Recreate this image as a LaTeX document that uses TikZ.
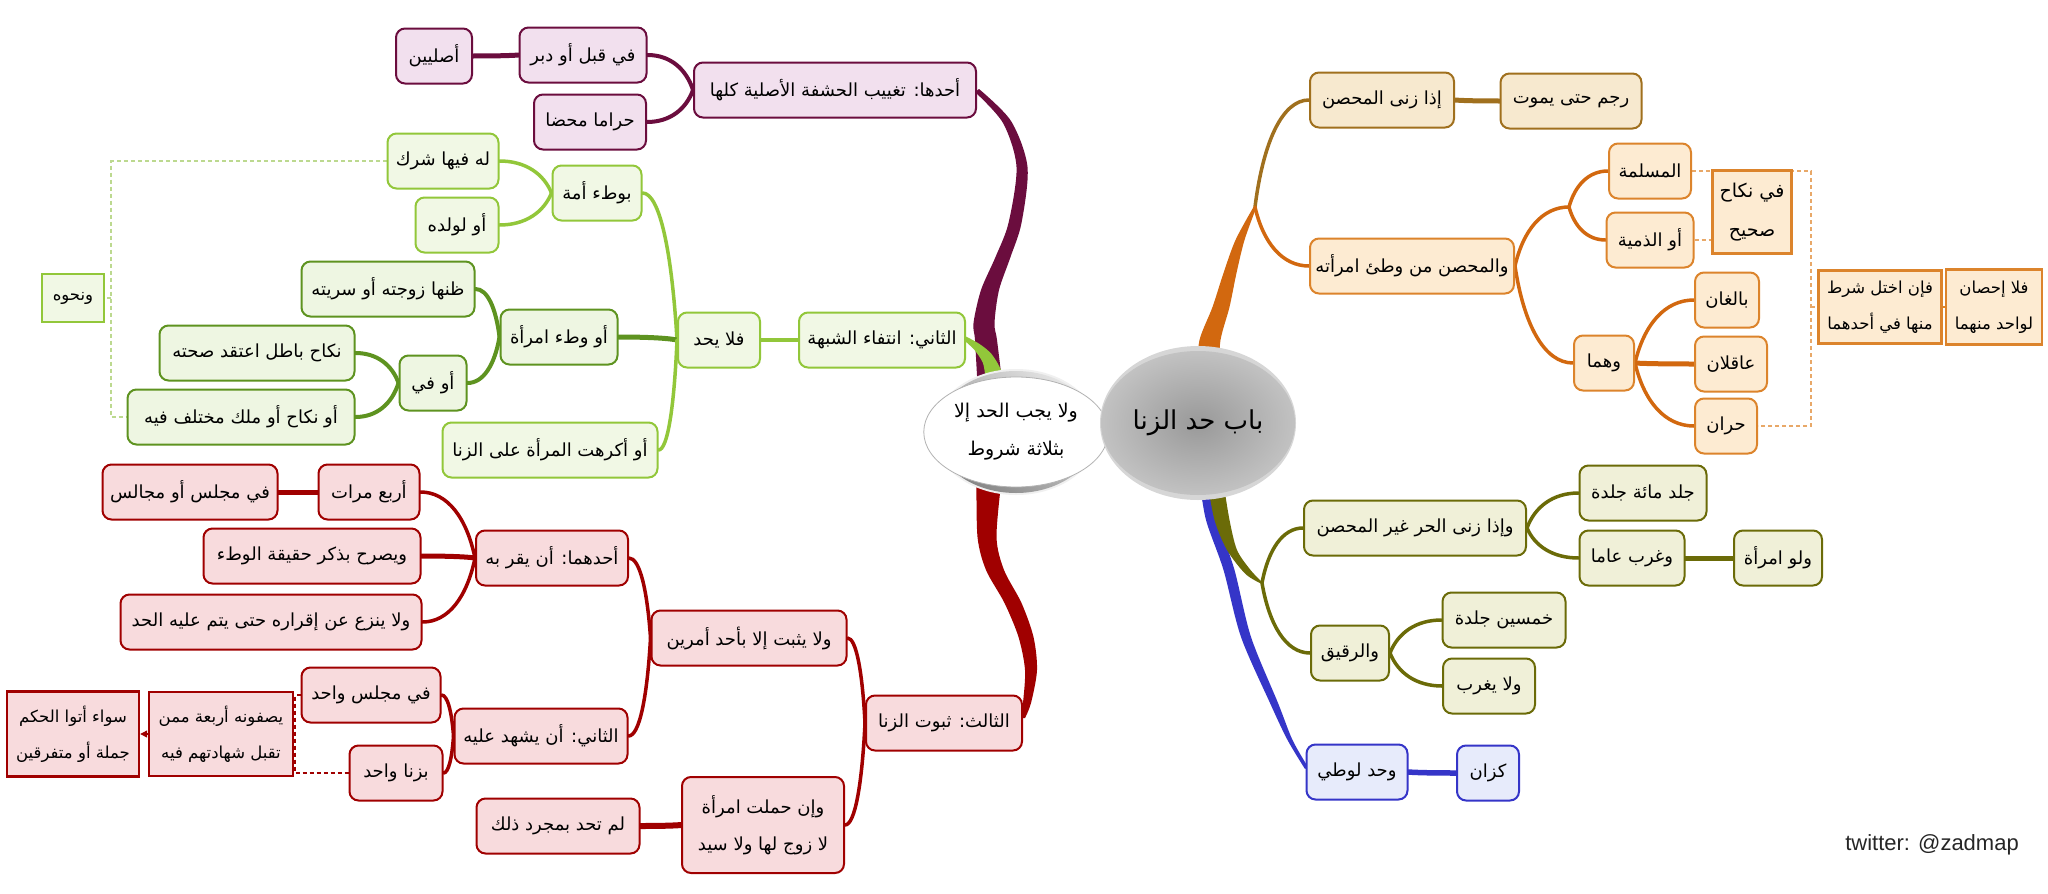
\documentclass[tikz,border=0pt]{standalone}
\usepackage{fontspec}
\usetikzlibrary{calc,arrows.meta,shapes.geometric}
\TeXXeTstate=1
\newfontfamily\arabicfont[Script=Arabic]{DejaVu Sans}
\newfontfamily\latinsans{Liberation Sans}
\newcommand{\artxt}[1]{\beginR #1\endR}
\definecolor{cMar}{HTML}{6B0D3E}\definecolor{cMarF}{HTML}{F2E0EE}
\definecolor{cGl}{HTML}{92C73A}\definecolor{cGlF}{HTML}{F1F8E5}
\definecolor{cGd}{HTML}{5E9320}\definecolor{cGdF}{HTML}{EEF6E2}
\definecolor{cRd}{HTML}{A00000}\definecolor{cRdF}{HTML}{F8DBDD}
\definecolor{cOr}{HTML}{D2680F}\definecolor{cOrB}{HTML}{DC842C}\definecolor{cOrF}{HTML}{FDEBD2}
\definecolor{cBr}{HTML}{A0701E}\definecolor{cBrF}{HTML}{F7E9CF}
\definecolor{cOl}{HTML}{6B6B08}\definecolor{cOlF}{HTML}{F0F0D8}
\definecolor{cBl}{HTML}{3535C8}\definecolor{cBlF}{HTML}{E7EBFB}
\definecolor{cOdash}{HTML}{E8A868}\definecolor{cGdash}{HTML}{BCD98F}
\pgfdeclarelayer{back}\pgfdeclarelayer{bg}\pgfsetlayers{back,bg,main}
\begin{document}
\begin{tikzpicture}[x=1pt,y=-1pt,
  bx/.style={draw, rounded corners=9pt, line width=2pt, minimum height=55pt, inner sep=1pt, align=center, text=black, font=\arabicfont\fontsize{18}{37}\selectfont},
  sq/.style={sharp corners, line width=2.4pt, font=\arabicfont\fontsize{16.5}{36}\selectfont},
  mar/.style={bx, draw=cMar, fill=cMarF},
  gl/.style={bx, draw=cGl, fill=cGlF},
  gd/.style={bx, draw=cGd, fill=cGdF},
  rd/.style={bx, draw=cRd, fill=cRdF},
  br/.style={bx, draw=cBr, fill=cBrF},
  orb/.style={bx, draw=cOrB, fill=cOrF},
  ol/.style={bx, draw=cOl, fill=cOlF},
  bl/.style={bx, draw=cBl, fill=cBlF},
  cn/.style={line cap=round, line width=3.5pt, to path={let \p1=(\tikztostart), \p2=(\tikztotarget) in .. controls ({\x1+0.15*(\x2-\x1)},{\y1+0.6*(\y2-\y1)}) and ({\x1+0.5*(\x2-\x1)},\y2) .. (\tikztotarget) \tikztonodes}},
  dsh/.style={dashed, line width=1.1pt, dash pattern=on 4pt off 3pt},
]
\begin{pgfonlayer}{back}
\fill[white] (0,0) rectangle (2048,894);
\end{pgfonlayer}
\useasboundingbox (0,0) rectangle (2048,894);

% ---------- maroon ----------
\node[mar, minimum width=76pt] (asl) at (434,56) {\artxt{أصليين}};
\node[mar, minimum width=127pt] (qubul) at (583,55) {\artxt{في قبل أو دبر}};
\node[mar, minimum width=112pt] (haram) at (590,122) {\artxt{حراما محضا}};
\node[mar, minimum width=282pt] (ahad) at (835,90) {\artxt{أحدها: تغييب الحشفة الأصلية كلها}};
% ---------- green ----------
\node[gl, minimum width=111pt] (sharik) at (443,161) {\artxt{له فيها شرك}};
\node[gl, minimum width=83pt] (walad) at (457,225) {\artxt{أو لولده}};
\node[gl, minimum width=89pt] (amah) at (597,193) {\artxt{بوطء أمة}};
\node[gl, sq, minimum width=62pt, minimum height=48pt] (nahwuh) at (73,298) {\artxt{ونحوه}};
\node[gd, minimum width=173pt] (zann) at (388,289) {\artxt{ظنها زوجته أو سريته}};
\node[gd, minimum width=117pt] (watimr) at (559,337) {\artxt{أو وطء امرأة}};
\node[gd, minimum width=195pt] (batil) at (257,353) {\artxt{نكاح باطل اعتقد صحته}};
\node[gd, minimum width=67pt] (awfi) at (433,383) {\artxt{أو في}};
\node[gd, minimum width=227pt] (mukh) at (241,417) {\artxt{أو نكاح أو ملك مختلف فيه}};
\node[gl, minimum width=215pt] (ikrah) at (550,450) {\artxt{أو أكرهت المرأة على الزنا}};
\node[gl, minimum width=82pt] (fala) at (719,340) {\artxt{فلا يحد}};
\node[gl, minimum width=166pt] (thani) at (882,340) {\artxt{الثاني: انتفاء الشبهة}};
% ---------- red ----------
\node[rd, minimum width=175pt] (majalis) at (190,492) {\artxt{في مجلس أو مجالس}};
\node[rd, minimum width=101pt] (arba) at (369,492) {\artxt{أربع مرات}};
\node[rd, minimum width=217pt] (yusarrih) at (312,556) {\artxt{ويصرح بذكر حقيقة الوطء}};
\node[rd, minimum width=152pt] (yuqirr) at (552,558) {\artxt{أحدهما: أن يقر به}};
\node[rd, minimum width=301pt] (yanzi) at (271,622) {\artxt{ولا ينزع عن إقراره حتى يتم عليه الحد}};
\node[rd, minimum width=139pt] (wahid) at (371,695) {\artxt{في مجلس واحد}};
\node[rd, minimum width=173pt] (yashhad) at (541,736) {\artxt{الثاني: أن يشهد عليه}};
\node[rd, minimum width=93pt] (zinaw) at (396,773) {\artxt{بزنا واحد}};
\node[rd, sq, minimum width=144pt, minimum height=84pt] (yasif) at (221,734) {\artxt{يصفونه أربعة ممن}\\\artxt{تقبل شهادتهم فيه}};
\node[rd, sq, minimum width=132pt, minimum height=85pt] (sawa) at (73,734) {\artxt{سواء أتوا الحكم}\\\artxt{جملة أو متفرقين}};
\node[rd, minimum width=195pt] (yathbut) at (749,638) {\artxt{ولا يثبت إلا بأحد أمرين}};
\node[rd, minimum width=156pt] (thalith) at (944,723) {\artxt{الثالث: ثبوت الزنا}};
\node[rd, minimum width=162pt, minimum height=96pt] (hamalat) at (763,825) {\artxt{وإن حملت امرأة}\\\artxt{لا زوج لها ولا سيد}};
\node[rd, minimum width=163pt] (lam) at (558,826) {\artxt{لم تحد بمجرد ذلك}};
% ---------- orange ----------
\node[br, minimum width=144pt] (idha) at (1382,100) {\artxt{إذا زنى المحصن}};
\node[br, minimum width=141pt] (rajm) at (1571,101) {\artxt{رجم حتى يموت}};
\node[orb, minimum width=204pt] (muhsan) at (1412,266) {\artxt{والمحصن من وطئ امرأته}};
\node[orb, minimum width=82pt] (muslima) at (1650,171) {\artxt{المسلمة}};
\node[orb, minimum width=87pt] (dhimmiya) at (1650,240) {\artxt{أو الذمية}};
\node[orb, sq, minimum width=79pt, minimum height=83pt, font=\arabicfont\fontsize{19}{39}\selectfont] (nikah) at (1752,212) {\artxt{في نكاح}\\\artxt{صحيح}};
\node[orb, minimum width=60pt] (huma) at (1604,363) {\artxt{وهما}};
\node[orb, minimum width=64pt] (baligh) at (1727,300) {\artxt{بالغان}};
\node[orb, minimum width=72pt] (aqil) at (1731,364) {\artxt{عاقلان}};
\node[orb, minimum width=62pt] (hurr) at (1726,426) {\artxt{حران}};
\node[orb, sq, minimum width=123pt, minimum height=73pt] (ikhtal) at (1880,307) {\artxt{فإن اختل شرط}\\\artxt{منها في أحدهما}};
\node[orb, sq, minimum width=96pt, minimum height=75pt] (ihsan) at (1994,307) {\artxt{فلا إحصان}\\\artxt{لواحد منهما}};
% ---------- olive ----------
\node[ol, minimum width=222pt] (ghayr) at (1415,528) {\artxt{وإذا زنى الحر غير المحصن}};
\node[ol, minimum width=127pt] (jald) at (1643,493) {\artxt{جلد مائة جلدة}};
\node[ol, minimum width=105pt] (gharrib) at (1632,558) {\artxt{وغرب عاما}};
\node[ol, minimum width=88pt] (walaw) at (1778,558) {\artxt{ولو امرأة}};
\node[ol, minimum width=78pt] (raqiq) at (1350,653) {\artxt{والرقيق}};
\node[ol, minimum width=123pt] (khamsin) at (1504,620) {\artxt{خمسين جلدة}};
\node[ol, minimum width=92pt] (yugharrab) at (1489,686) {\artxt{ولا يغرب}};
% ---------- blue ----------
\node[bl, minimum width=101pt] (luti) at (1357,772) {\artxt{وحد لوطي}};
\node[bl, minimum width=62pt] (kazan) at (1488,773) {\artxt{كزان}};
% ---------- centre ----------
\node[ellipse, minimum width=166pt, minimum height=126pt, fill=black!6] (ringh) at (1016,432) {};
\node[ellipse, minimum width=162pt, minimum height=122pt, top color=black!10, bottom color=black!48, shading angle=-40] (ringo) at (1016,432) {};
\node[ellipse, fill=white, draw=black!30, line width=0.8pt, minimum width=150pt, minimum height=110pt, align=center, font=\arabicfont\fontsize{19}{38}\selectfont] (shurut) at (1016,432) {\artxt{ولا يجب الحد إلا}\\\artxt{بثلاثة شروط}};
\node[ellipse, minimum width=196pt, minimum height=154pt, fill=black!16] (babo) at (1198,423) {};
\node[ellipse, minimum width=186pt, minimum height=144pt, inner color=black!40, outer color=black!24, font=\arabicfont\fontsize{26}{30}\selectfont] (bab) at (1198,423) {\artxt{باب حد الزنا}};
\node[font=\latinsans\fontsize{22}{26}\selectfont, text=black!85, inner sep=0pt] (wm) at (1932,845) {twitter: @zadmap};
\coordinate (jor) at (1255,207);
\coordinate (jmu) at (1569,207);
\coordinate (jol) at (1262,583);

\begin{pgfonlayer}{bg}
% thick tapered branches
\fill[cMar] plot[smooth] coordinates {(977.5,385) (975,340) (973.5,323) (981,290) (995.5,257) (1008.5,223) (1016.5,167) (1003,123) (975,92)}
  -- plot[smooth] coordinates {(979,89) (1011,121) (1027.5,167) (1021.5,223) (1010.5,257) (999,290) (994.5,323) (997,340) (1002.5,385)} -- cycle;
\fill[cGl] plot[smooth] coordinates {(965,336) (979.5,344) (991.5,354) (1001,370) (1006,390)}
  -- plot[smooth] coordinates {(986,390) (985,374) (982.5,362) (974.5,350) (965,341)} -- cycle;
\fill[cRd] plot[smooth] coordinates {(976.5,480) (977.5,537) (986,570) (1004.5,603) (1018.5,637) (1025,670) (1023,703) (1021,718)}
  -- plot[smooth] coordinates {(1025,718) (1031,703) (1037,670) (1033.5,637) (1021.5,603) (1004,570) (996.5,537) (1001.5,480)} -- cycle;
\fill[cOr] plot[smooth] coordinates {(1197,372) (1199.5,340) (1212.5,307) (1223.5,273) (1235.5,240) (1253.5,207)}
  -- plot[smooth] coordinates {(1256.5,207) (1244.5,240) (1236.5,273) (1229.5,307) (1220.5,340) (1219,372)} -- cycle;
\fill[cBl] plot[smooth] coordinates {(1199.5,480) (1206,520) (1223.5,570) (1241,637) (1270,703) (1287.5,740) (1305,769)}
  -- plot[smooth] coordinates {(1308,767) (1292.5,740) (1278,703) (1251,637) (1234.5,570) (1218,520) (1212.5,480)} -- cycle;
\fill[cOl] plot[smooth] coordinates {(1207,480) (1214.5,520) (1227,550) (1245.5,574) (1262,584)}
  -- plot[smooth] coordinates {(1262,582) (1250.5,570) (1237,550) (1229.5,520) (1223,480)} -- cycle;
% thin connectors
\draw[cn, cBr] (jor) to (idha.west);
\draw[cn, cOr] (jor) to (muhsan.west);
\draw[cn, cBr, line width=5pt] (idha.east) to (rajm.west);
\draw[cn, cOr] (muhsan.east) to (jmu);
\draw[cn, cOr] (jmu) to (muslima.west);
\draw[cn, cOr] (jmu) to (dhimmiya.west);
\draw[cn, cOr] (muhsan.east) to (huma.west);
\draw[cn, cOr] (huma.east) to (baligh.west);
\draw[cn, cOr, line width=5pt] (huma.east) to (aqil.west);
\draw[cn, cOr] (huma.east) to (hurr.west);
\draw[cn, cOl] (jol) to (ghayr.west);
\draw[cn, cOl] (jol) to (raqiq.west);
\draw[cn, cOl] (ghayr.east) to (jald.west);
\draw[cn, cOl] (ghayr.east) to (gharrib.west);
\draw[cn, cOl, line width=5pt] (gharrib.east) to (walaw.west);
\draw[cn, cOl] (raqiq.east) to (khamsin.west);
\draw[cn, cOl] (raqiq.east) to (yugharrab.west);
\draw[cn, cBl, line width=5.5pt] (luti.east) to (kazan.west);
\draw[cn, cMar, line width=4pt] (ahad.west) to (qubul.east);
\draw[cn, cMar, line width=4pt] (ahad.west) to (haram.east);
\draw[cn, cMar, line width=5pt] (qubul.west) to (asl.east);
\draw[cn, cGl, line width=4pt] (thani.west) to (fala.east);
\draw[cn, cGl] (fala.west) to (amah.east);
\draw[cn, cGd, line width=5pt] (fala.west) to (watimr.east);
\draw[cn, cGl] (fala.west) to (ikrah.east);
\draw[cn, cGl] (amah.west) to (sharik.east);
\draw[cn, cGl] (amah.west) to (walad.east);
\draw[cn, cGd, line width=4pt] (watimr.west) to (zann.east);
\draw[cn, cGd, line width=4pt] (watimr.west) to (awfi.east);
\draw[cn, cGd, line width=4pt] (awfi.west) to (batil.east);
\draw[cn, cGd, line width=4pt] (awfi.west) to (mukh.east);
\draw[cn, cRd] (thalith.west) to (yathbut.east);
\draw[cn, cRd] (thalith.west) to (hamalat.east);
\draw[cn, cRd] (yathbut.west) to (yuqirr.east);
\draw[cn, cRd] (yathbut.west) to (yashhad.east);
\draw[cn, cRd] (yuqirr.west) to (arba.east);
\draw[cn, cRd, line width=5pt] (yuqirr.west) to (yusarrih.east);
\draw[cn, cRd] (yuqirr.west) to (yanzi.east);
\draw[cn, cRd, line width=5pt] (arba.west) to (majalis.east);
\draw[cn, cRd] (yashhad.west) to (wahid.east);
\draw[cn, cRd] (yashhad.west) to (zinaw.east);
\draw[cn, cRd, line width=6pt] (hamalat.west) to (lam.east);
% dashed brackets
\draw[dsh, cGdash] (sharik.west) -- (111,161) |- (mukh.west);
\draw[dsh, cGdash] (111,298) -- (nahwuh.east);
\draw[dsh, cOdash] (muslima.east) -- (1811,171) |- (hurr.east);
\draw[dsh, cOdash] (dhimmiya.east) -- (nikah.west |- dhimmiya.east);
\draw[dsh, cOdash] (1811,307) -- (ikhtal.west);
\draw[cOrB, line width=1.2pt] (ikhtal.east) -- (ihsan.west);
\draw[dsh, cRd] (wahid.west) -- (295,695) |- (zinaw.west);
\draw[cRd, line width=1.2pt, -{Triangle[length=7pt,width=7pt]}] (yasif.west) -- (sawa.east);
\end{pgfonlayer}
\end{tikzpicture}
\end{document}
